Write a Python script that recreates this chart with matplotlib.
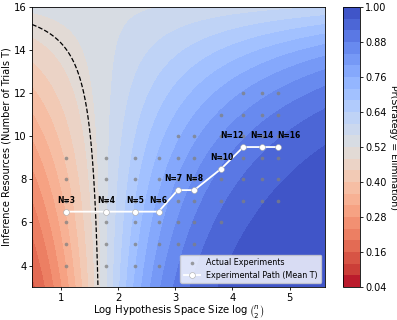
import numpy as np
import matplotlib
matplotlib.use('Agg')
import matplotlib.pyplot as plt
from math import comb

# experiment data
N_values = [3, 4, 5, 6, 7, 8, 10, 12, 14, 16]
mean_T = [6.5, 6.5, 6.5, 6.5, 7.5, 7.5, 8.5, 9.5, 9.5, 9.5]
experiment_T = [
    [4, 5, 6, 7, 8, 9],
    [4, 5, 6, 7, 8, 9],
    [4, 5, 6, 7, 8, 9],
    [4, 5, 6, 7, 8, 9],
    [5, 6, 7, 8, 9, 10],
    [5, 6, 7, 8, 9, 10],
    [6, 7, 8, 9, 10, 11],
    [7, 8, 9, 10, 11, 12],
    [7, 8, 9, 10, 11, 12],
    [7, 8, 9, 10, 11, 12],
]
# horizontal nudge of the N labels (points) so close ones don't collide
label_dx = [0, 0, 0, 0, -3.5, 0, 0, -8.5, 0, 8.5]

# fitted logistic surface: logit = b0 + b1*x + b2*T + b3*x*T
b0, b1, b2, b3 = -1.6725, 1.0, 0.1075, -0.0606
scale = 1.85

x_vals = [np.log(comb(n, 2)) for n in N_values]

xx, TT = np.meshgrid(np.linspace(0.5, 5.62, 300), np.linspace(3, 16, 300))
logit = scale * (b0 + b1 * xx + b2 * TT + b3 * xx * TT)
prob = 1 / (1 + np.exp(-logit))

fig = plt.figure(figsize=(3.97, 3.2), dpi=100)
ax = fig.add_axes([0.081, 0.103, 0.738, 0.875])
cax = fig.add_axes([0.864, 0.103, 0.042, 0.875])

levels = np.linspace(0.04, 1.0, 25)
cs = ax.contourf(xx, TT, prob, levels=levels, cmap='coolwarm_r')
ax.contour(xx, TT, prob, levels=[0.5], colors='black', linestyles='--', linewidths=0.9)

# actual experiments
for xv, ts in zip(x_vals, experiment_T):
    ax.scatter([xv] * len(ts), ts, s=7, color='gray', alpha=0.75, linewidths=0, zorder=3,
               label='Actual Experiments' if xv == x_vals[0] else None)

ax.plot(x_vals, mean_T, '-o', color='white', markersize=4.2, linewidth=1.3,
        markeredgecolor='#aaaaaa', markeredgewidth=0.4, zorder=4,
        label='Experimental Path (Mean T)')

for n, xv, t, dx in zip(N_values, x_vals, mean_T, label_dx):
    ax.annotate(f'N={n}', (xv, t), xytext=(dx, 5), textcoords='offset points',
                ha='center', va='bottom', fontsize=5.5, fontweight='bold', zorder=5)

ax.set_xlim(0.5, 5.62)
ax.set_ylim(3, 16)
ax.set_xticks([1, 2, 3, 4, 5])
ax.set_yticks([4, 6, 8, 10, 12, 14, 16])
ax.tick_params(labelsize=7.2, length=2.5, width=0.6, pad=1.5)
for s in ax.spines.values():
    s.set_linewidth(0.6)
ax.set_xlabel(r'Log Hypothesis Space Size $\log\binom{n}{2}$', fontsize=7.3, labelpad=1)
ax.set_ylabel('Inference Resources (Number of Trials T)', fontsize=7, labelpad=2)

leg = ax.legend(loc='lower right', fontsize=5.8, framealpha=0.8)

cb = fig.colorbar(cs, cax=cax)
cb.outline.set_linewidth(0.6)
cb.ax.tick_params(labelsize=7, length=2.5, width=0.6, pad=1.5)
cb.set_label('Pr(Strategy = Elimination)', rotation=270, labelpad=8, fontsize=6.8)

fig.savefig('out.png', dpi=100)
